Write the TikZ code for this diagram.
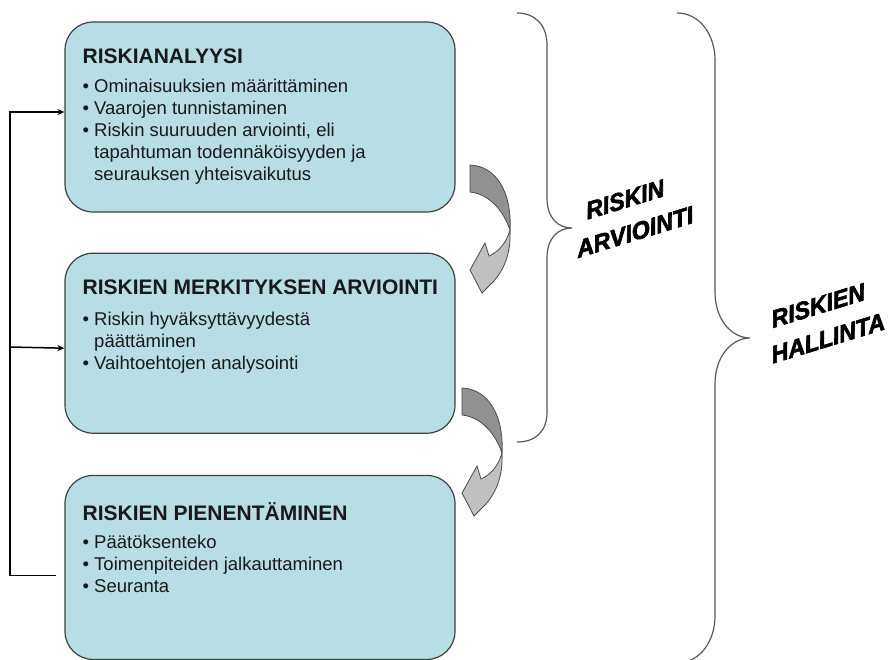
\documentclass[tikz,border=0pt]{standalone}
\usepackage{fontspec}
\setmainfont{Liberation Sans}
\newfontfamily\raskas[BoldItalicFeatures={FakeBold=2.5,FakeSlant=0.12}]{Liberation Sans}
\usepackage{tikz}
\newcommand{\boxwidth}{390pt}
\definecolor{myTeal}{RGB}{183,222,228}
\definecolor{myFrame}{RGB}{64,64,64}
\definecolor{myDark}{RGB}{145,145,145}
\definecolor{myLight}{RGB}{192,192,192}
\usetikzlibrary{arrows.meta,positioning}
\newcommand{\otsikko}[1]{{\fontsize{21}{22}\selectfont\bfseries\rule{0pt}{16pt}#1}}
\newcommand{\jatko}{\hphantom{\textbullet\ }}
% curved block arrow, shifted by #1
\newcommand{\kaarinuoli}[1]{%
  \begin{scope}[shift={#1}]
    \path[turn,fill=myDark] (470,-165) .. controls (496,-166) and (512,-192) .. (510,-230)
      .. controls (504,-212) and (490,-194) .. (470,-192) -- cycle;
    \path[turn,fill=myLight] (510,-230) .. controls (506,-244) and (498,-252) .. (489,-256)
      -- (485,-243) -- (470,-270) -- (482,-293) -- (494,-281)
      .. controls (505,-268) and (511,-252) .. (510,-230) -- cycle;
  \end{scope}}
\tikzset{
  >={Stealth[length=7pt,width=6pt]},
  x=1pt,y=1pt,
  riskbox/.style={draw=myFrame,fill=myTeal,line width=1.2pt,rounded corners=28pt,minimum width=\boxwidth,inner sep=0},
  boxtext/.style={align=left,inner sep=0,font=\fontsize{18.5}{22}\selectfont,text=black!90},
  line/.style={draw,line width=1.5pt},
  brace/.style={draw=black!65,line width=1.2pt},
  bracetext/.style={font=\raskas\fontsize{24}{34}\selectfont\bfseries\itshape,align=center,rotate=17,inner sep=0},
  turn/.style={draw=black!70,line width=0.8pt},
}
\begin{document}
\begin{tikzpicture}
  \clip (0,0) rectangle (892,-659);
  \fill[white] (0,0) rectangle (892,-659);
  % the three steps
  \node (analyysi) [riskbox,minimum height=190pt] at (260,-117) {};
  \node (merkitys) [riskbox,minimum height=180pt,below=40pt of analyysi] {};
  \node (pienennys) [riskbox,minimum height=184pt,below=41pt of merkitys] {};
  \node (analyysiteksti) [boxtext,below right=26pt and 18pt of analyysi.north west]
    {\otsikko{RISKIANALYYSI}\\[7pt]
     \textbullet\ Ominaisuuksien määrittäminen\\
     \textbullet\ Vaarojen tunnistaminen\\
     \textbullet\ Riskin suuruuden arviointi, eli\\
     \jatko tapahtuman todennäköisyyden ja\\
     \jatko seurauksen yhteisvaikutus};
  \node (merkitysteksti) [boxtext,below right=26pt and 18pt of merkitys.north west]
    {\otsikko{RISKIEN MERKITYKSEN ARVIOINTI}\\[9pt]
     \textbullet\ Riskin hyväksyttävyydestä\\
     \jatko päättäminen\\
     \textbullet\ Vaihtoehtojen analysointi};
  \node (pienennysteksti) [boxtext,below right=28pt and 18pt of pienennys.north west]
    {\otsikko{RISKIEN PIENENTÄMINEN}\\[6pt]
     \textbullet\ Päätöksenteko\\
     \textbullet\ Toimenpiteiden jalkauttaminen\\
     \textbullet\ Seuranta};
  % feedback loop
  \coordinate (vasen) at (10,-112);
  \coordinate (haara) at (10,-347);
  \path [line,->] ([xshift=-8pt,yshift=-8pt]pienennys.west) -| (vasen) -- ([yshift=5pt]analyysi.west);
  \path [line,->] (haara) -- ([yshift=-5pt]merkitys.west);
  % curved arrows between the steps
  \kaarinuoli{(0,0)}
  \kaarinuoli{(-8,-223)}
  % braces
  \draw[brace] (517,-13) .. controls (535,-13) and (547,-25) .. (547,-45) -- (547,-198)
    .. controls (547,-218) and (558,-228) .. (572,-228)
    .. controls (558,-228) and (547,-238) .. (547,-258) -- (547,-412)
    .. controls (547,-432) and (535,-442) .. (517,-442);
  \draw[brace] (677,-13) .. controls (700,-13) and (715,-35) .. (715,-60) -- (715,-292)
    .. controls (715,-320) and (732,-338) .. (750,-338)
    .. controls (732,-338) and (715,-356) .. (715,-384) -- (715,-616)
    .. controls (715,-641) and (700,-663) .. (677,-663);
  \node (arviointi) [bracetext] at (629,-216) {RISKIN\\ARVIOINTI};
  \node (hallinta) [bracetext] at (822,-322) {RISKIEN\\HALLINTA};
\end{tikzpicture}
\end{document}
